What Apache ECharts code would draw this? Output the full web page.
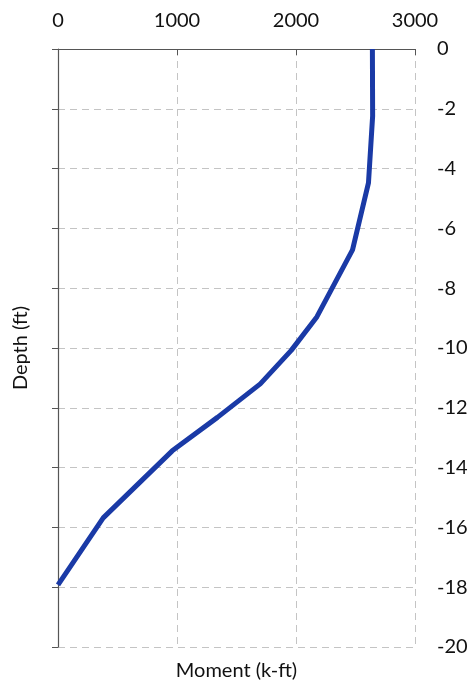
<!DOCTYPE html>
<html>
<head>
<meta charset="utf-8">
<script src="https://cdn.jsdelivr.net/npm/echarts@6/dist/echarts.min.js"></script>
<style>html,body{margin:0;padding:0;background:#fff;}#c{width:475px;height:688px;}</style>
</head>
<body>
<div id="c"></div>
<script>
const depths = [0, -2.24, -4.48, -6.72, -8.96, -10.08, -11.2, -12.32, -13.44, -15.68, -17.92];
const moments = [2642, 2644, 2609, 2475, 2175, 1960, 1700, 1340, 960, 380, 0];
const xTicks = [0, 1000, 2000, 3000];
const yTicks = [0, -2, -4, -6, -8, -10, -12, -14, -16, -18, -20];

const font = 'Lato, "Open Sans", sans-serif';
const chart = echarts.init(document.getElementById('c'));
chart.setOption({
  animation: false,
  backgroundColor: '#fff',
  grid: { left: 58, right: 60, top: 49, bottom: 41 },
  xAxis: [{
    type: 'value', position: 'top', min: xTicks[0], max: xTicks[xTicks.length-1], interval: 1000,
    axisLine: { show: true, lineStyle: { color: '#555', width: 1.2 } },
    axisTick: { show: true, inside: true, length: 6, lineStyle: { color: '#555' } },
    axisLabel: { fontFamily: font, fontSize: 20, color: '#111', margin: 18,
      formatter: v => xTicks.includes(v) ? String(v) : '' },
    splitLine: { show: true, lineStyle: { color: '#c4c4c4', type: [7, 5] } }
  }, {
    type: 'value', position: 'bottom', min: 0, max: 3000,
    axisLine: { show: false }, axisTick: { show: false }, axisLabel: { show: false },
    splitLine: { show: false },
    name: 'Moment (k-ft)', nameLocation: 'middle', nameGap: 14,
    nameTextStyle: { fontFamily: font, fontSize: 20, color: '#111' }
  }],
  yAxis: [{
    type: 'value', position: 'left', min: -20, max: 0, interval: 2,
    axisLine: { show: true, onZero: false, lineStyle: { color: '#555', width: 1.2 } },
    axisTick: { show: true, inside: false, length: 6, lineStyle: { color: '#555' } },
    axisLabel: { show: false },
    splitLine: { show: true, lineStyle: { color: '#c4c4c4', type: [7, 5] } },
    name: 'Depth (ft)', nameLocation: 'middle', nameGap: 27,
    nameTextStyle: { fontFamily: font, fontSize: 20, color: '#111' }
  }, {
    type: 'value', position: 'right', min: -20, max: 0, interval: 2,
    axisLine: { show: false }, axisTick: { show: false }, splitLine: { show: false },
    axisLabel: { fontFamily: font, fontSize: 20, color: '#111', margin: 22,
      formatter: v => yTicks.includes(v) ? String(v) : '' }
  }],
  series: [{
    type: 'line', xAxisIndex: 0, yAxisIndex: 0,
    data: depths.map((d, i) => [moments[i], d]),
    showSymbol: false, symbol: 'none',
    lineStyle: { color: '#1a3aa6', width: 5 }
  }]
});
</script>
</body>
</html>
